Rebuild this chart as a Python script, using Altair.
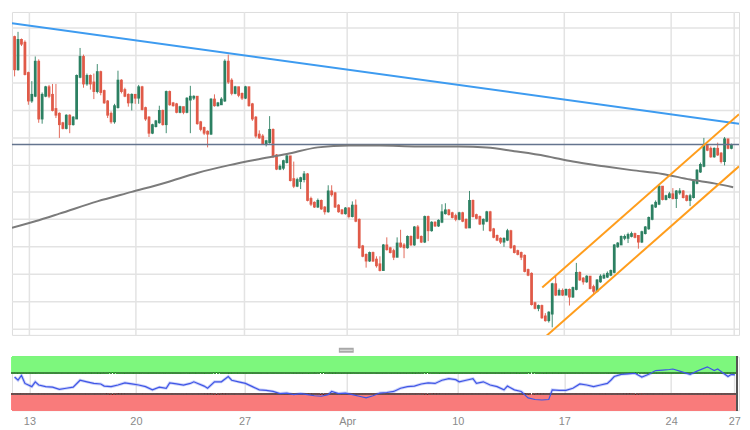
import altair as alt
import pandas as pd

# ---------------- data (prices in pips, price = pips / 10000) ----------------
first_open = 11173
close_pips = [11140, 11170, 11167, 11135, 11107, 11112, 11147, 11088, 11112, 11120,
              11112, 11097, 11092, 11082, 11078, 11090, 11082, 11088, 11132, 11152,
              11125, 11132, 11125, 11117, 11136, 11116, 11105, 11092, 11085, 11100,
              11127, 11117, 11112, 11105, 11112, 11110, 11120, 11098, 11088, 11073,
              11080, 11084, 11095, 11082, 11115, 11103, 11102, 11095, 11099, 11095,
              11108, 11110, 11110, 11083, 11077, 11073, 11072, 11107, 11102, 11103,
              11107, 11147, 11127, 11115, 11120, 11113, 11110, 11120, 11102, 11088,
              11070, 11068, 11062, 11063, 11075, 11048, 11035, 11036, 11042, 11047,
              11023, 11017, 11022, 11024, 11028, 11002, 10998, 10995, 11000, 10993,
              10990, 11010, 11008, 10995, 10990, 10988, 10992, 10985, 10995, 10980,
              10952, 10943, 10938, 10945, 10938, 10933, 10928, 10953, 10950, 10947,
              10942, 10955, 10953, 10952, 10962, 10955, 10972, 10962, 10958, 10983,
              10970, 10977, 10975, 10979, 10988, 10990, 10987, 10984, 10982, 10987,
              10980, 10973, 11000, 10985, 10983, 10977, 10980, 10988, 10970, 10963,
              10960, 10958, 10960, 10968, 10952, 10947, 10945, 10942, 10927, 10923,
              10892, 10888, 10889, 10878, 10875, 10882, 10912, 10902, 10905, 10902,
              10906, 10900, 10908, 10924, 10918, 10916, 10920, 10909, 10906, 10916,
              10920, 10921, 10923, 10926, 10953, 10955, 10962, 10962, 10964, 10965,
              10963, 10958, 10967, 10972, 10982, 10995, 10998, 11015, 11003, 11005,
              11007, 11004, 11010, 11010, 11005, 11002, 11005, 11020, 11032, 11038,
              11058, 11055, 11048, 11055, 11050, 11043, 11065, 11057, 11059]
high_pips = [11175, 11179, 11172, 11170, 11137, 11127, 11153, 11150, 11115, 11122,
             11123, 11124, 11124, 11094, 11084, 11092, 11092, 11090, 11134, 11162,
             11155, 11135, 11134, 11135, 11145, 11138, 11118, 11107, 11095, 11103,
             11138, 11129, 11120, 11114, 11114, 11113, 11123, 11122, 11100, 11090,
             11082, 11086, 11101, 11097, 11117, 11117, 11105, 11104, 11101, 11100,
             11110, 11122, 11112, 11111, 11085, 11079, 11075, 11109, 11113, 11105,
             11110, 11150, 11155, 11130, 11122, 11121, 11115, 11122, 11121, 11104,
             11090, 11075, 11071, 11065, 11090, 11077, 11050, 11039, 11044, 11050,
             11048, 11042, 11025, 11026, 11032, 11030, 11005, 11000, 11003, 11002,
             10995, 11017, 11017, 11010, 10997, 10992, 10994, 10994, 11000, 11002,
             10982, 10954, 10945, 10947, 10947, 10942, 10942, 10955, 10962, 10952,
             10950, 10962, 10970, 10956, 10964, 10964, 10974, 10975, 10964, 10985,
             10985, 10979, 10979, 10981, 10997, 10998, 10992, 10989, 10987, 10989,
             10989, 10982, 11011, 11002, 10987, 10985, 10982, 10990, 10990, 10972,
             10965, 10962, 10962, 10971, 10970, 10954, 10949, 10947, 10944, 10929,
             10925, 10894, 10891, 10891, 10882, 10884, 10914, 10921, 10908, 10908,
             10908, 10908, 10910, 10935, 10926, 10920, 10922, 10921, 10912, 10918,
             10923, 10924, 10926, 10928, 10955, 10957, 10964, 10965, 10967, 10968,
             10967, 10964, 10969, 10974, 10984, 10997, 11001, 11018, 11016, 11007,
             11010, 11014, 11012, 11014, 11012, 11007, 11008, 11022, 11034, 11041,
             11067, 11060, 11058, 11057, 11062, 11052, 11068, 11066, 11061]
low_pips = [11132, 11138, 11164, 11133, 11102, 11104, 11110, 11083, 11082, 11110,
            11109, 11095, 11088, 11067, 11076, 11076, 11072, 11080, 11087, 11130,
            11120, 11122, 11118, 11108, 11114, 11112, 11103, 11088, 11082, 11082,
            11098, 11114, 11110, 11100, 11096, 11103, 11103, 11096, 11085, 11068,
            11071, 11078, 11082, 11080, 11072, 11101, 11100, 11093, 11093, 11092,
            11093, 11072, 11107, 11081, 11074, 11070, 11057, 11070, 11100, 11100,
            11102, 11105, 11124, 11112, 11113, 11110, 11107, 11108, 11100, 11085,
            11067, 11066, 11060, 11058, 11061, 11046, 11033, 11033, 11033, 11040,
            11021, 11014, 11015, 11013, 11020, 11000, 10995, 10993, 10993, 10991,
            10986, 10988, 11005, 10993, 10988, 10986, 10986, 10982, 10983, 10978,
            10950, 10941, 10930, 10936, 10936, 10930, 10926, 10927, 10948, 10945,
            10938, 10941, 10951, 10940, 10950, 10953, 10953, 10960, 10956, 10956,
            10958, 10968, 10973, 10973, 10977, 10986, 10985, 10982, 10979, 10980,
            10978, 10971, 10972, 10983, 10981, 10975, 10969, 10978, 10968, 10961,
            10958, 10955, 10952, 10958, 10950, 10945, 10943, 10938, 10925, 10921,
            10890, 10886, 10884, 10876, 10873, 10872, 10867, 10900, 10901, 10900,
            10901, 10890, 10898, 10906, 10916, 10912, 10914, 10907, 10902, 10904,
            10914, 10918, 10919, 10921, 10924, 10951, 10954, 10959, 10956, 10962,
            10961, 10950, 10956, 10965, 10970, 10980, 10993, 10996, 11001, 11001,
            11003, 11002, 10993, 11007, 11003, 11000, 10995, 11003, 11018, 11030,
            11036, 11053, 11046, 11046, 11048, 11040, 11038, 11055, 11055]

# date axis: candle positions of the day labels
tick_idx = [4.3, 35.2, 66.7, 96.5, 128.6, 159.5, 190.5, 208.8]
tick_lbl = ["13", "20", "27", "Apr", "10", "17", "24", "27"]

# horizontal grid levels
grid_pips = [11183, 11154, 11125, 11096, 11067, 11038, 11010, 10981, 10952, 10923, 10894, 10865]

# drawn lines
level_pips = 11060
trend_idx = [-0.76, 210.2]
trend_pips = [11188, 11082]
chan_up_idx = [153.1, 210.2]
chan_up_pips = [10909, 11092]
chan_lo_idx = [153.4, 210.2]
chan_lo_pips = [10855, 11037]

# moving average readings
ma_idx = [-0.76, 6, 13, 24, 34, 44, 53, 62, 70, 79, 88, 97, 106, 117, 129, 137, 145, 154,
          162, 171, 179, 188, 196, 203, 208.5]
ma_pips = [10972, 10979, 10987, 11000, 11010, 11020, 11030, 11038, 11044, 11050, 11057,
           11059, 11059, 11058, 11058, 11057, 11053, 11048, 11042, 11037, 11033, 11029,
           11023, 11019, 11015]

# RSI readings
rsi_idx = [0, 1, 2, 3, 5, 6, 7, 9, 11, 13, 15, 17, 19, 21, 23, 25, 26, 28, 30, 32, 34, 36,
           38, 40, 42, 44, 45, 47, 49, 51, 52, 55, 56, 58, 60, 62, 63, 65, 67, 69, 71, 73,
           75, 77, 79, 81, 83, 85, 87, 89, 91, 92, 94, 96, 98, 100, 102, 104, 106, 108,
           110, 112, 114, 116, 118, 120, 122, 124, 126, 128, 129, 131, 133, 134, 136, 138,
           140, 142, 143, 145, 147, 149, 151, 153, 155, 156, 158, 160, 162, 164, 166, 168,
           170, 172, 173, 174, 176, 178, 180, 182, 184, 186, 188, 190, 191, 193, 196, 198,
           201, 203, 204, 207, 208, 209]
rsi_val = [62, 56, 65, 50, 44, 53, 47, 44, 43, 39, 41, 43, 56, 53, 50, 49, 45, 44, 47, 51,
           49, 47, 44, 38, 43, 41, 51, 49, 47, 50, 53, 45, 41, 53, 53, 63, 56, 53, 50, 44,
           38, 37, 35, 31, 32, 29, 31, 29, 27, 26, 29, 35, 31, 32, 29, 26, 23, 27, 32, 33,
           35, 41, 44, 45, 49, 51, 50, 56, 59, 57, 53, 56, 59, 50, 53, 47, 44, 38, 45, 38,
           35, 23, 20, 19, 20, 38, 37, 37, 41, 49, 47, 44, 47, 50, 56, 63, 67, 68, 69, 62,
           67, 74, 75, 76, 77, 73, 67, 73, 81, 74, 77, 63, 67, 66]

# ---------------- tables ----------------
n = len(close_pips)
opens = [first_open] + close_pips[:-1]
rows = []
for i in range(n):
    o, c = opens[i], close_pips[i]
    h = max(high_pips[i], o, c)
    l = min(low_pips[i], o, c)
    rows.append({"idx": i, "open": o / 1e4, "close": c / 1e4, "high": h / 1e4,
                 "low": l / 1e4, "dir": "up" if c >= o else "down"})
candles = pd.DataFrame(rows)

def line_df(xs_, ps):
    return pd.DataFrame({"idx": xs_, "price": [p / 1e4 for p in ps]})

trend = line_df(trend_idx, trend_pips)
chan_up = line_df(chan_up_idx, chan_up_pips)
chan_lo = line_df(chan_lo_idx, chan_lo_pips)
ma = line_df(ma_idx, ma_pips)
rsi = pd.DataFrame({"idx": rsi_idx, "rsi": rsi_val})
hgrid = pd.DataFrame({"price": [g / 1e4 for g in grid_pips]})
vgrid = pd.DataFrame({"idx": tick_idx})

W = 734
X_DOM = [-0.76, 210.2]
xs = alt.Scale(domain=X_DOM, nice=False, zero=False)
ys = alt.Scale(domain=[1.0859, 1.1200], nice=False, zero=False)
GRID = "#e3e3e3"

hg = alt.Chart(hgrid).mark_rule(color=GRID, strokeWidth=1.5).encode(
    y=alt.Y("price:Q", scale=ys, axis=None))
vg = alt.Chart(vgrid).mark_rule(color=GRID, strokeWidth=1.5).encode(
    x=alt.X("idx:Q", scale=xs, axis=None))

col = alt.Color("dir:N", scale=alt.Scale(domain=["up", "down"], range=["#2c8062", "#e05a48"]),
                legend=None)

wicks = alt.Chart(candles).mark_rule(strokeWidth=1, opacity=0.9).encode(
    x=alt.X("idx:Q", scale=xs, axis=None),
    y=alt.Y("low:Q", scale=ys, axis=None),
    y2="high:Q",
    color=col,
)
bodies = alt.Chart(candles).mark_rule(strokeWidth=2.8, strokeCap="square").encode(
    x=alt.X("idx:Q", scale=xs, axis=None),
    y=alt.Y("open:Q", scale=ys, axis=None),
    y2="close:Q",
    color=col,
)

def pline(df, color, width=2.0):
    return alt.Chart(df).mark_line(color=color, strokeWidth=width, clip=True).encode(
        x=alt.X("idx:Q", scale=xs, axis=None), y=alt.Y("price:Q", scale=ys, axis=None))

ma_line = alt.Chart(ma).mark_line(color="#7b7b7b", strokeWidth=2, interpolate="monotone",
                                  clip=True).encode(
    x=alt.X("idx:Q", scale=xs, axis=None), y=alt.Y("price:Q", scale=ys, axis=None))
level = alt.Chart(pd.DataFrame({"price": [level_pips / 1e4]})).mark_rule(
    color="#64748e", strokeWidth=1.5).encode(y=alt.Y("price:Q", scale=ys, axis=None))

main = alt.layer(
    hg, vg, wicks, bodies, level, ma_line,
    pline(trend, "#3d9bf0"), pline(chan_up, "#ff9d1c"), pline(chan_lo, "#ff9d1c"),
).properties(width=W, height=326)

# ---------------- RSI panel ----------------
thr = [(tick_idx[k] + tick_idx[k + 1]) / 2 for k in range(len(tick_idx) - 1)]
expr = f"'{tick_lbl[-1]}'"
for k in range(len(thr) - 1, -1, -1):
    expr = f"datum.value < {thr[k]:.2f} ? '{tick_lbl[k]}' : ({expr})"

x_axis_rsi = alt.Axis(values=tick_idx, labelExpr=expr, ticks=False, domain=False, grid=True,
                      gridColor=GRID, gridWidth=1.5, title=None, labelFontSize=11,
                      labelFont="Liberation Sans", labelPadding=5,
                      labelColor={"condition": {"test": "datum.label == 'Apr'", "value": "#555555"},
                                  "value": "#8a8a8a"},
                      labelFontWeight={"condition": {"test": "datum.label == 'Apr'", "value": "bold"},
                                       "value": "normal"})
rs = alt.Scale(domain=[0, 100], nice=False, zero=False)
base_r = alt.Chart(rsi)
RH = 54

band_hi = base_r.mark_rect(color="#7df77d", opacity=1).encode(
    x=alt.value(0), x2=alt.value(W - 2), y=alt.datum(70, scale=rs, axis=None), y2=alt.datum(100))
band_lo = base_r.mark_rect(color="#f97b7b", opacity=1).encode(
    x=alt.value(0), x2=alt.value(W - 2), y=alt.datum(0), y2=alt.datum(30))
edge_hi = base_r.mark_rule(color="#3f8a3f", strokeWidth=1, strokeDash=[2, 1]).encode(
    x=alt.value(0), x2=alt.value(W - 2), y=alt.datum(70))
edge_lo = base_r.mark_rule(color="#6a5050", strokeWidth=1, strokeDash=[2, 1]).encode(
    x=alt.value(0), x2=alt.value(W - 2), y=alt.datum(30))
edge_r = base_r.mark_rule(color="#555555", strokeWidth=1.2).encode(
    x=alt.value(W - 2), y=alt.value(0), y2=alt.value(RH))
glow = base_r.mark_line(color="#a9b4f5", strokeWidth=3, opacity=0.6).encode(
    x=alt.X("idx:Q", scale=xs, axis=x_axis_rsi), y=alt.Y("rsi:Q", scale=rs, axis=None))
rline = base_r.mark_line(color="#3f55e6", strokeWidth=1.2).encode(
    x=alt.X("idx:Q", scale=xs), y=alt.Y("rsi:Q", scale=rs))
handle_box = alt.Chart(pd.DataFrame({"k": [0]})).mark_rect(color="#a8a8a8").encode(
    x=alt.value(330), x2=alt.value(345), y=alt.value(-9), y2=alt.value(-4))
handle_line = alt.Chart(pd.DataFrame({"k": [0]})).mark_rule(color="#e8e8e8", strokeWidth=1).encode(
    x=alt.value(331), x2=alt.value(344), y=alt.value(-6.5))

rsi_chart = alt.layer(glow, band_hi, band_lo, edge_hi, edge_lo, edge_r, rline,
                      handle_box, handle_line).properties(width=W, height=RH)

chart = alt.vconcat(main, rsi_chart, spacing=10).resolve_scale(
    x="independent", y="independent", color="independent"
).properties(padding=0).configure_view(
    fill="#f5f5f5", stroke="#dde1e8", strokeWidth=1
).configure(background="#ffffff")

chart.save("out.html", embed_options={"renderer": "svg", "actions": False})
